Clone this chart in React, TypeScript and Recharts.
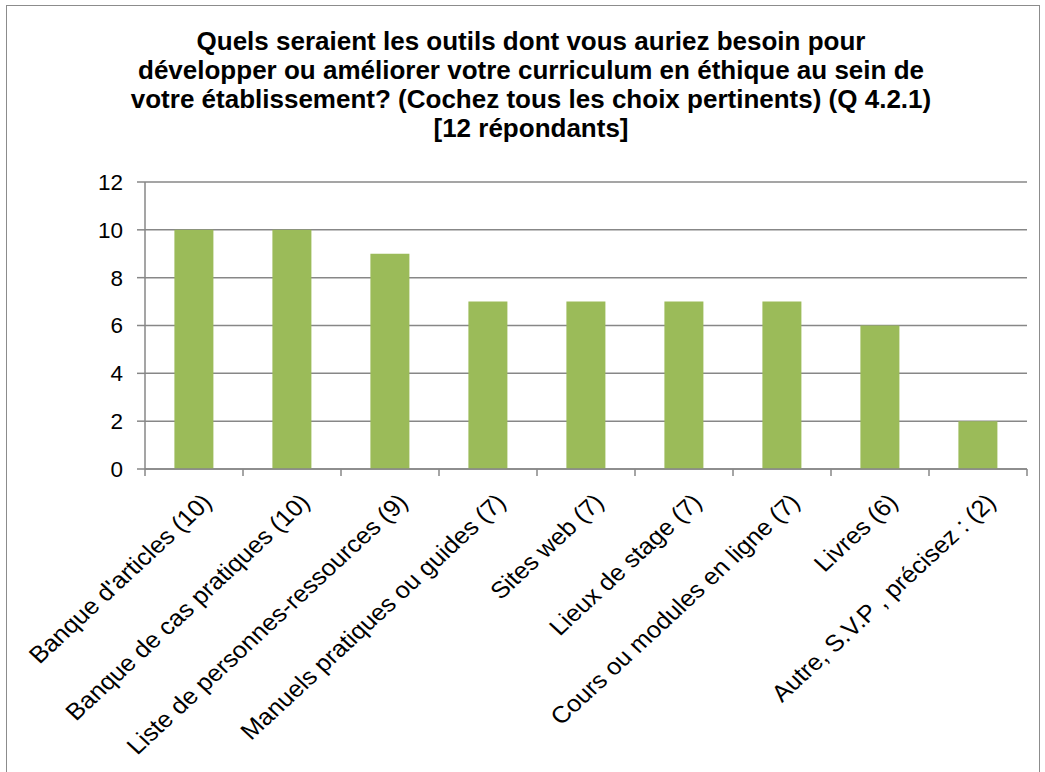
import { Bar, BarChart, CartesianGrid, XAxis, YAxis } from 'recharts';

const categories = [
  "Banque d'articles (10)",
  'Banque de cas pratiques (10)',
  'Liste de personnes-ressources (9)',
  'Manuels pratiques ou guides (7)',
  'Sites web (7)',
  'Lieux de stage (7)',
  'Cours ou modules en ligne (7)',
  'Livres (6)',
  'Autre, S.V.P , précisez : (2)',
];
const counts = [10, 10, 9, 7, 7, 7, 7, 6, 2];
const yTicks = [0, 2, 4, 6, 8, 10, 12];

const titleLines = [
  'Quels seraient les outils dont vous auriez besoin pour',
  'développer ou améliorer votre curriculum en éthique au sein de',
  'votre établissement? (Cochez tous les choix pertinents) (Q 4.2.1)',
  '[12 répondants]',
];

const data = categories.map((name, i) => ({ name, count: counts[i], pos: i + 0.5 }));
const edges = categories.map((_, i) => i).concat(categories.length);

const font = '"Liberation Sans", Arial, sans-serif';
const gray = '#878787';

// labels in the source are a bit wider than tall, hence the small x stretch
function CategoryTick(props: any) {
  const { x, y, payload } = props;
  return (
    <g transform={`translate(${x + 13}, ${y + 19}) scale(1.08, 1) rotate(-45)`}>
      <text x={0} y={0} textAnchor="end" dy="0.35em" fontSize={23.5} fontFamily={font} fill="#000">
        {payload.value}
      </text>
    </g>
  );
}

export default function App() {
  return (
    <div style={{ position: 'absolute', left: 0, top: 0, width: 1045, height: 772, overflow: 'hidden', background: '#fff' }}>
      <div
        style={{
          position: 'absolute',
          left: 6,
          top: 5,
          width: 1032,
          height: 900,
          border: '1.5px solid #8c8c8c',
        }}
      />
      {titleLines.map((line, i) => (
        <div
          key={i}
          style={{
            position: 'absolute',
            left: 0,
            top: 27 + i * 29,
            width: 1062,
            textAlign: 'center',
            fontFamily: font,
            fontWeight: 'bold',
            fontSize: 26,
            lineHeight: '29px',
            color: '#000',
            whiteSpace: 'nowrap',
          }}
        >
          {line}
        </div>
      ))}
      <div style={{ position: 'absolute', left: 0, top: 0 }}>
        <BarChart
          width={1045}
          height={772}
          data={data}
          margin={{ top: 182, right: 18, left: 85, bottom: 0 }}
          barCategoryGap="30%"
        >
          <CartesianGrid vertical={false} stroke={gray} strokeWidth={1.5} />
          <XAxis
            xAxisId="a"
            dataKey="pos"
            type="number"
            domain={[0, categories.length]}
            ticks={edges}
            allowDataOverflow
            tick={() => <g />}
            tickSize={7}
            tickLine={{ stroke: gray, strokeWidth: 1.5 }}
            axisLine={{ stroke: gray, strokeWidth: 1.5 }}
            height={1}
          />
          <XAxis
            xAxisId="b"
            dataKey="name"
            interval={0}
            height={302}
            tickLine={false}
            tickSize={7}
            axisLine={false}
            tick={<CategoryTick />}
          />
          <YAxis
            domain={[0, 12]}
            ticks={yTicks}
            width={60}
            tickSize={8}
            tickMargin={14}
            tickLine={{ stroke: gray, strokeWidth: 1.5 }}
            axisLine={{ stroke: gray, strokeWidth: 1.5 }}
            tick={{ fill: '#000', fontSize: 22.5, fontFamily: font }}
          />
          <Bar xAxisId="b" dataKey="count" fill="#9BBB59" isAnimationActive={false} />
        </BarChart>
      </div>
    </div>
  );
}
